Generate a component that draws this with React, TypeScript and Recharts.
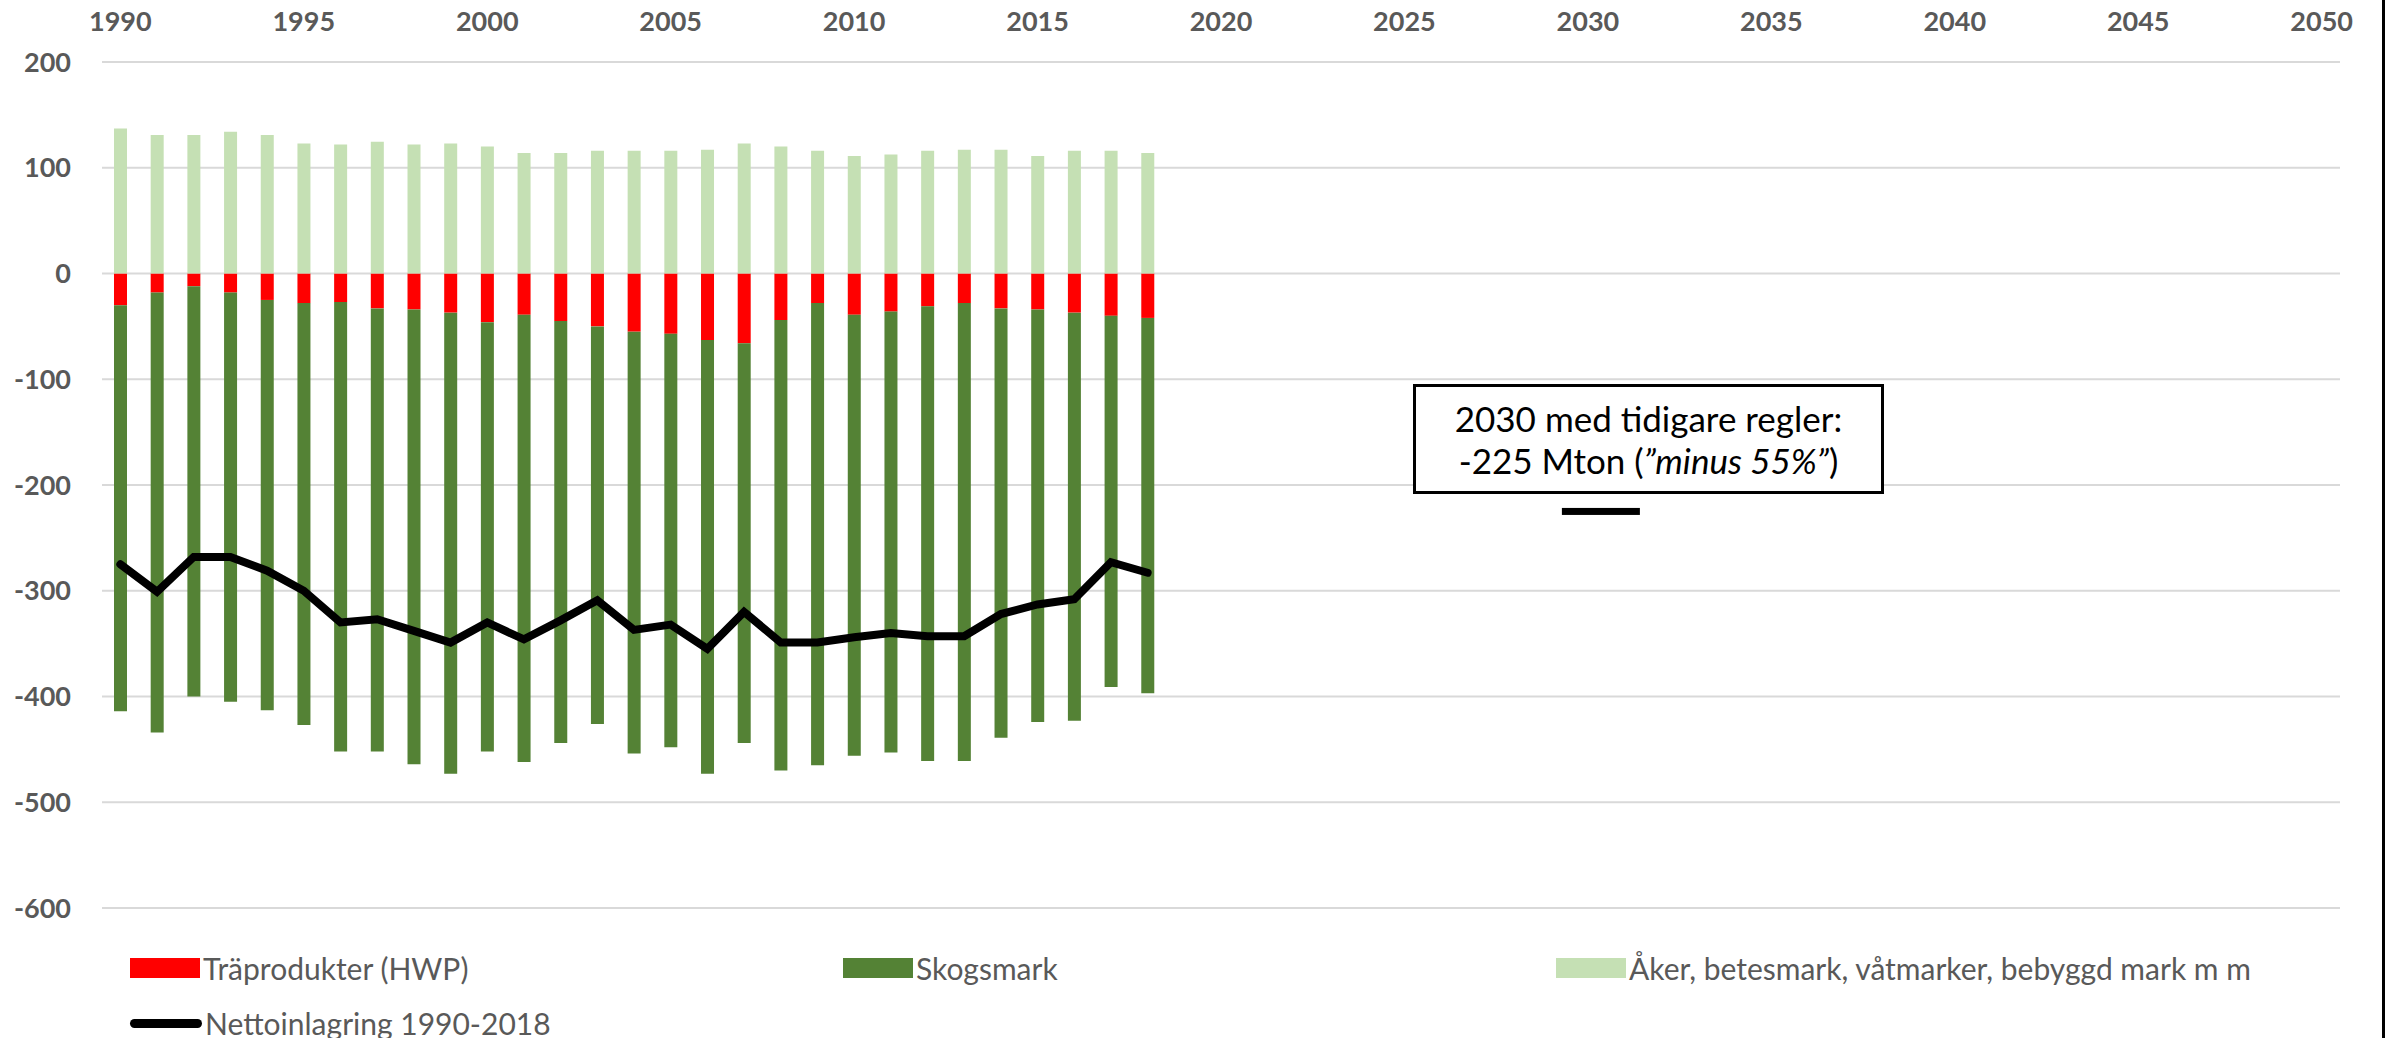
import React from 'react';
import { ComposedChart, Bar, Line, XAxis, YAxis, CartesianGrid, Legend } from 'recharts';

// ---- Data ----
const years = [
  '1990','1991','1992','1993','1994','1995','1996','1997','1998','1999',
  '2000','2001','2002','2003','2004','2005','2006','2007','2008','2009',
  '2010','2011','2012','2013','2014','2015','2016','2017','2018','2019',
  '2020','2021','2022','2023','2024','2025','2026','2027','2028','2029',
  '2030','2031','2032','2033','2034','2035','2036','2037','2038','2039',
  '2040','2041','2042','2043','2044','2045','2046','2047','2048','2049','2050',
];
const xTickLabels = ['1990','1995','2000','2005','2010','2015','2020','2025','2030','2035','2040','2045','2050'];
const yTicks = [200, 100, 0, -100, -200, -300, -400, -500, -600];

// 1990-2018
const hwp = [-30,-18,-12,-18,-25,-28,-27,-33,-34,-37,-46,-39,-45,-50,-55,-57,-63,-66,-44,-28,-39,-36,-31,-28,-33,-34,-37,-40,-42];
const skogsmark = [-384,-416,-388,-387,-388,-399,-425,-419,-430,-436,-406,-423,-399,-376,-399,-391,-410,-378,-426,-437,-417,-417,-430,-433,-406,-390,-386,-351,-355];
const ovrigMark = [137,131,131,134,131,123,122,124.5,122,123,120,114,114,116,116,116,117,123,120,116,111,112.5,116,117,117,111,116,116,114];
const netto = [-275,-301,-268,-268,-281,-300,-330,-327,-338,-349,-330,-346,-328,-309,-337,-332,-355,-320,-349,-349,-344,-340,-343,-343,-322,-313,-308,-273,-283];
const target2030Year = '2030';
const target2030Value = -225;

const seriesNames = {
  hwp: 'Träprodukter (HWP)',
  skog: 'Skogsmark',
  ovrig: 'Åker, betesmark, våtmarker, bebyggd mark m m',
  netto: 'Nettoinlagring 1990-2018',
};
const annotationLine1 = '2030 med tidigare regler:';
const annotationLine2a = '-225 Mton (';
const annotationLine2b = '”minus 55%”';
const annotationLine2c = ')';

// ---- Styles ----
const RED = '#FF0000';
const GREEN = '#548235';
const LIGHT = '#C5E0B4';
const TEXT = '#595959';
const FONT = 'Lato, "Open Sans", sans-serif';

const data = years.map((y, i) => ({
  year: y,
  hwp: hwp[i],
  skog: skogsmark[i],
  ovrig: ovrigMark[i],
  netto: netto[i],
  target: y === target2030Year ? target2030Value : undefined,
}));

const DashMarker = (props: any) => {
  const { cx, cy } = props;
  if (cx == null || cy == null || props.value == null) return null;
  return <rect x={cx - 26} y={cy - 3.5} width={78} height={7} fill="#000" />;
};

const legendRows = [
  [
    { label: seriesNames.hwp, color: RED, kind: 'rect' },
    { label: seriesNames.skog, color: GREEN, kind: 'rect' },
    { label: seriesNames.ovrig, color: LIGHT, kind: 'rect' },
  ],
  [{ label: seriesNames.netto, color: '#000', kind: 'line' }],
];

const CustomLegend = () => (
  <div style={{ height: 130, paddingTop: 42, boxSizing: 'border-box', paddingLeft: 130, fontFamily: FONT }}>
    {legendRows.map((row, ri) => (
      <div key={ri} style={{ display: 'flex', height: 36, marginBottom: 19 }}>
        {row.map((it, ii) => (
          <div key={ii} style={{ width: 713, display: 'flex', alignItems: 'center' }}>
            {it.kind === 'rect' ? (
              <div style={{ width: 70, height: 20, background: it.color }} />
            ) : (
              <div style={{ width: 72, height: 9, background: it.color, borderRadius: 4.5 }} />
            )}
            <span style={{ marginLeft: 3, fontSize: 30, color: TEXT, whiteSpace: 'nowrap' }}>{it.label}</span>
          </div>
        ))}
      </div>
    ))}
  </div>
);

export default function App() {
  return (
    <div style={{ position: 'absolute', left: 0, top: 0, width: 2389, height: 1038, background: '#fff' }}>
      <ComposedChart
        width={2389}
        height={1038}
        data={data}
        stackOffset="sign"
        margin={{ top: 0, right: 49, bottom: 0, left: 0 }}
      >
        <CartesianGrid horizontal vertical={false} stroke="#D9D9D9" strokeWidth={2} />
        <XAxis
          dataKey="year"
          orientation="top"
          height={62}
          ticks={xTickLabels}
          interval={0}
          axisLine={false}
          tickLine={false}
          tickSize={0}
          tickMargin={31}
          tick={{ fill: TEXT, fontSize: 27, fontWeight: 700, fontFamily: FONT }}
        />
        <YAxis
          type="number"
          domain={[-600, 200]}
          ticks={yTicks}
          width={102}
          axisLine={false}
          tickLine={false}
          tickSize={0}
          tickMargin={31}
          interval={0}
          tick={{ fill: TEXT, fontSize: 27, fontWeight: 700, fontFamily: FONT }}
        />
        <Legend verticalAlign="bottom" align="left" content={() => <CustomLegend />} wrapperStyle={{ left: 0, width: 2389 }} />
        <Bar dataKey="hwp" stackId="a" fill={RED} barSize={13} isAnimationActive={false} name={seriesNames.hwp} />
        <Bar dataKey="skog" stackId="a" fill={GREEN} barSize={13} isAnimationActive={false} name={seriesNames.skog} />
        <Bar dataKey="ovrig" stackId="a" fill={LIGHT} barSize={13} isAnimationActive={false} name={seriesNames.ovrig} />
        <Line
          dataKey="netto"
          type="linear"
          stroke="#000"
          strokeWidth={8}
          strokeLinecap="round"
          strokeLinejoin="miter"
          dot={false}
          activeDot={false}
          isAnimationActive={false}
          name={seriesNames.netto}
        />
        <Line
          dataKey="target"
          stroke="none"
          dot={<DashMarker />}
          activeDot={false}
          isAnimationActive={false}
          legendType="none"
        />
      </ComposedChart>
      <div
        style={{
          position: 'absolute',
          left: 1413,
          top: 384,
          width: 471,
          height: 110,
          border: '3px solid #000',
          boxSizing: 'border-box',
          background: '#fff',
          display: 'flex',
          flexDirection: 'column',
          alignItems: 'center',
          justifyContent: 'center',
          fontFamily: FONT,
          fontSize: 35,
          lineHeight: '42px',
          color: '#000',
        }}
      >
        <div style={{ whiteSpace: 'nowrap' }}>{annotationLine1}</div>
        <div style={{ whiteSpace: 'nowrap' }}>
          {annotationLine2a}
          <i>{annotationLine2b}</i>
          {annotationLine2c}
        </div>
      </div>
      <div style={{ position: 'absolute', left: 2382, top: 0, width: 3, height: 1038, background: '#000' }} />
    </div>
  );
}
